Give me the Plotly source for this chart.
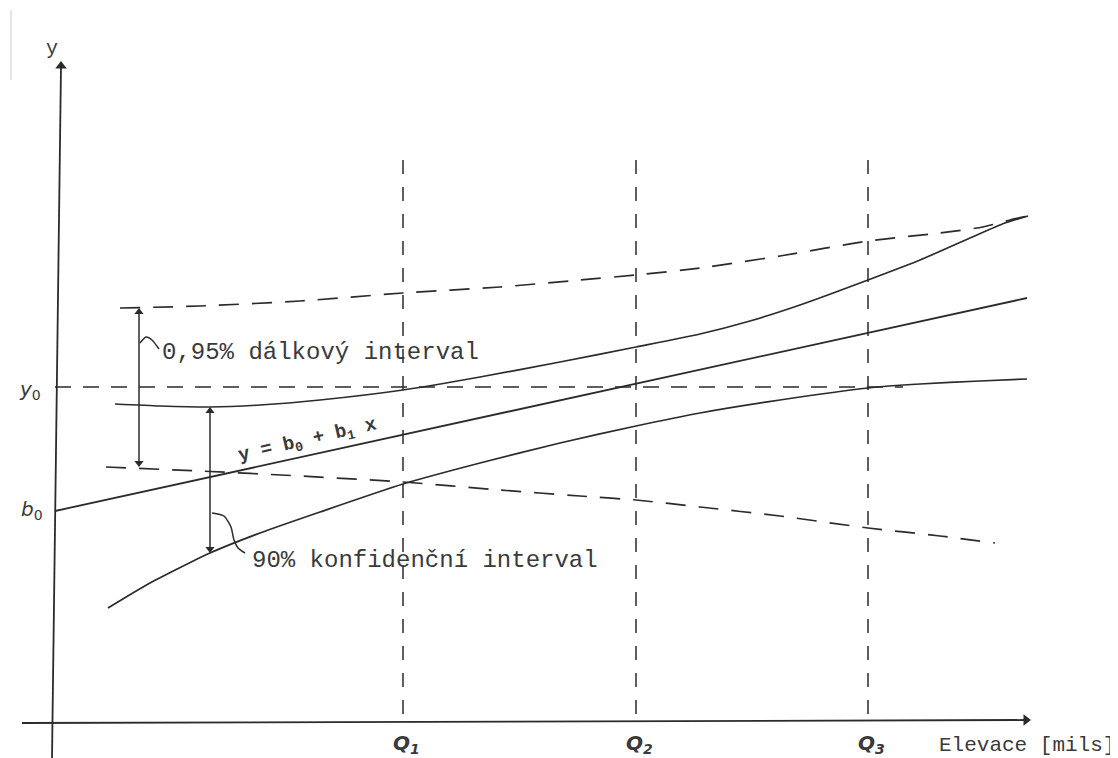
import plotly.graph_objects as go

reg_x = [55, 1027]
reg_y = [511, 298]

conf_up_x = [115, 160, 210, 260, 320, 403, 480, 560, 636, 700, 750, 800, 868, 920, 970, 1005, 1028]
conf_up_y = [404, 406, 407, 405, 400, 390, 377, 362, 347, 334, 321, 305, 280, 260, 238, 223, 216]

conf_lo_x = [108, 150, 210, 260, 320, 403, 480, 560, 636, 700, 780, 868, 920, 980, 1027]
conf_lo_y = [608, 583, 553, 533, 512, 484, 463, 443, 426, 413, 400, 388, 384, 381, 379]

pred_up_x = [120, 200, 300, 403, 500, 580, 636, 700, 780, 868, 940, 983, 1010, 1028]
pred_up_y = [308, 306, 301, 293, 287, 280, 275, 268, 256, 241, 233, 227, 220, 216]

pred_lo_x = [106, 200, 300, 403, 500, 580, 636, 700, 780, 868, 940, 995]
pred_lo_y = [467, 471, 476, 482, 490, 496, 500, 507, 516, 528, 536, 543]

y0_x = [55, 903]
y0_y = [387, 387]

q_names = ["Q<sub>1</sub>", "Q<sub>2</sub>", "Q<sub>3</sub>"]
q_x = [403, 636, 868]
q_top = 160
q_bottom = 722

yaxis_x = [52, 61]
yaxis_y = [758, 66]
xaxis_x = [22, 1026]
xaxis_y = [723, 720]

pred_arrow_x = [139, 139]
pred_arrow_y = [312, 463]
conf_arrow_x = [210, 210]
conf_arrow_y = [411, 549]

pred_leader_x = [140, 146, 152, 159]
pred_leader_y = [343, 337, 340, 349]
conf_leader_x = [212, 224, 231, 234, 238, 245]
conf_leader_y = [513, 516, 527, 540, 548, 553]

INK = "#2b2b2b"
TXT = "#3a3a3a"
MONO = "Liberation Mono"
PAGE_MARGIN = 8  # browser default body margin

fig = go.Figure()

def line(x, y, dash="solid", width=1.7, shape="spline", color=INK):
    fig.add_trace(go.Scatter(x=x, y=y, mode="lines",
                             line=dict(color=color, width=width, dash=dash, shape=shape, smoothing=0.6),
                             hoverinfo="skip", showlegend=False))

def heads(x, y, symbols, size=8):
    fig.add_trace(go.Scatter(x=x, y=y, mode="markers",
                             marker=dict(symbol=symbols, size=size, color=INK, line=dict(width=0)),
                             hoverinfo="skip", showlegend=False))

# axes
line(yaxis_x, yaxis_y, width=1.8, shape="linear")
line(xaxis_x, xaxis_y, width=1.8, shape="linear")
heads([yaxis_x[1]], [yaxis_y[1]], ["triangle-up"], size=10)
heads([xaxis_x[1]], [xaxis_y[1]], ["triangle-right"], size=10)

# faint scan edge
line([11, 11], [10, 80], width=1.5, shape="linear", color="#dddddd")

# Q verticals
for qx in q_x:
    line([qx, qx], [q_top, q_bottom], dash="14px,13px", width=1.5, shape="linear")

# y0 dashed horizontal
line(y0_x, y0_y, dash="16px,12px", width=1.7, shape="linear")

# regression line and bands
line(reg_x, reg_y, width=1.8, shape="linear")
line(conf_up_x, conf_up_y)
line(conf_lo_x, conf_lo_y)
line(pred_up_x, pred_up_y, dash="20px,13px")
line(pred_lo_x, pred_lo_y, dash="20px,13px")

# interval arrows (double headed)
line(pred_arrow_x, pred_arrow_y, width=1.5, shape="linear")
heads(pred_arrow_x, pred_arrow_y, ["triangle-up", "triangle-down"], size=8)
line(conf_arrow_x, conf_arrow_y, width=1.5, shape="linear")
heads(conf_arrow_x, conf_arrow_y, ["triangle-up", "triangle-down"], size=8)

# leaders
line(pred_leader_x, pred_leader_y, width=1.5)
line(conf_leader_x, conf_leader_y, width=1.5)

ann = []
def text(t, x, y, size, family=MONO, xanchor="center", angle=0):
    ann.append(dict(x=x, y=y, xref="x", yref="y", text=t, showarrow=False,
                    font=dict(family=family, size=size, color=TXT),
                    xanchor=xanchor, yanchor="middle", textangle=angle))

text("y", 52, 48, 20)
text("<i>y</i><sub>0</sub>", 30, 390, 20, family="DejaVu Sans")
text("<i>b</i><sub>0</sub>", 32, 510, 20, family="DejaVu Sans")
text("0,95% dálkový interval", 160, 352, 24, xanchor="left")
text("90% konfidenční interval", 250, 560, 24, xanchor="left")
text("<b>y = b<sub>0</sub> + b<sub>1</sub> x</b>", 307, 441, 19, angle=-13)
for name, qx in zip(q_names, q_x):
    text("<i><b>" + name + "</b></i>", qx + 3, 744, 20, family="DejaVu Sans")
text("Elevace [mils]", 937, 745, 21, xanchor="left")

W, H = 1118, 758
fig.update_layout(
    width=W - PAGE_MARGIN, height=H - PAGE_MARGIN,
    margin=dict(l=0, r=0, t=0, b=0),
    paper_bgcolor="white", plot_bgcolor="white",
    xaxis=dict(range=[PAGE_MARGIN, W], visible=False, fixedrange=True),
    yaxis=dict(range=[H, PAGE_MARGIN], visible=False, fixedrange=True),
    annotations=ann,
    showlegend=False,
)

fig.write_html("out.html")
